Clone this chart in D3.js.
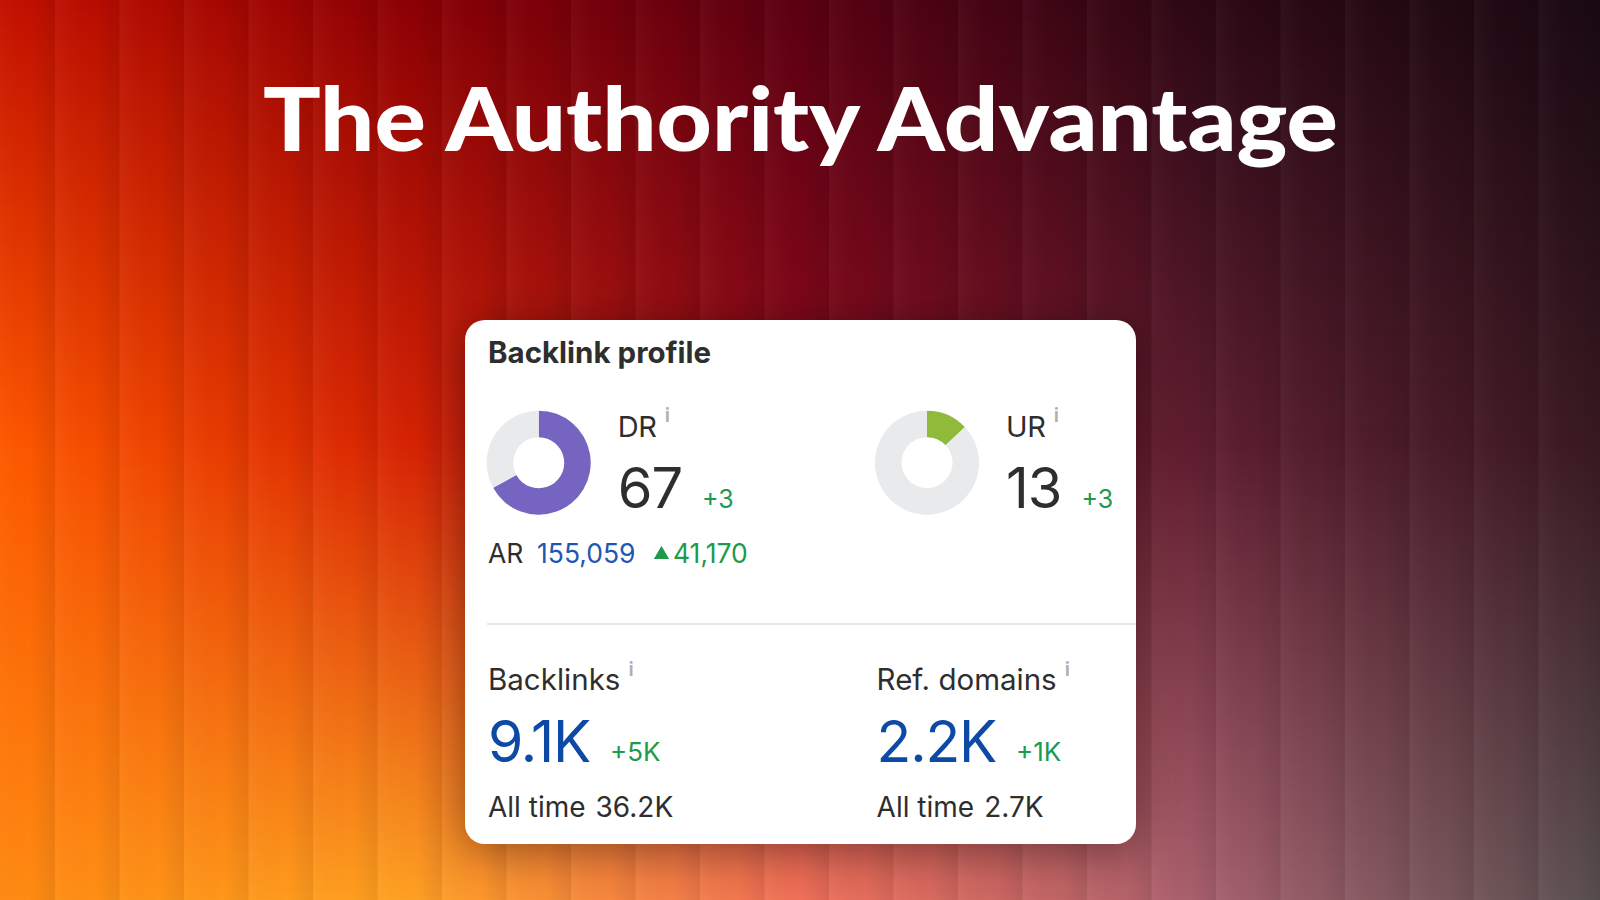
<!DOCTYPE html>
<html>
<head>
<meta charset="utf-8">
<script src="https://cdn.jsdelivr.net/npm/d3@7"></script>
<style>
  html, body { margin: 0; padding: 0; background: #1a0a12; }
  svg { display: block; }
</style>
</head>
<body>
<div id="chart"></div>
<script>
var svgWidth = 1600;
var svgHeight = 900;

// headline
var title = "The Authority Advantage";
var cardTitle = "Backlink profile";

// ratings (donuts)
var ratingLabels = ["DR", "UR"];
var ratingValues = [67, 13];
var ratingDeltas = ["+3", "+3"];
var ratingColors = ["#7664c1", "#8fba3a"];

// ahrefs rank line
var arLabel = "AR";
var arValue = "155,059";
var arDelta = "41,170";

// counts
var countLabels = ["Backlinks", "Ref. domains"];
var countValues = ["9.1K", "2.2K"];
var countDeltas = ["+5K", "+1K"];
var allTimeValues = ["36.2K", "2.7K"];

// background colour rows (left -> right), top / middle / bottom
var bgTop = ["#c41000", "#8c0004", "#5a0012", "#2c0814", "#1a0a12"];
var bgMid = ["#ff5a00", "#d82404", "#8e0a1c", "#5e1e30", "#3a1a22"];
var bgBot = ["#ff8a12", "#ffa222", "#f07058", "#a8606e", "#5a5050"];

var font = "Inter, Roboto, sans-serif";
var dark = "#2e2e2e";
var green = "#1d9a4c";
var blue = "#0d4aa6";

var svg = d3.select("#chart")
  .append("svg")
  .attr("width", svgWidth)
  .attr("height", svgHeight);

var defs = svg.append("defs");

// horizontal gradient for a background row
function rowGradient(id, colors) {
  var g = defs.append("linearGradient")
    .attr("id", id)
    .attr("x1", 0).attr("x2", 1).attr("y1", 0).attr("y2", 0);
  g.selectAll("stop")
    .data(colors)
    .enter()
    .append("stop")
    .attr("offset", (d, i) => i / (colors.length - 1))
    .attr("stop-color", d => d);
}
rowGradient("bgTop", bgTop);
rowGradient("bgMid", bgMid);
rowGradient("bgBot", bgBot);

// vertical masks to blend the rows
function vMask(id, stops) {
  var g = defs.append("linearGradient")
    .attr("id", id + "Grad")
    .attr("x1", 0).attr("x2", 0).attr("y1", 0).attr("y2", 1);
  stops.forEach(function(s) {
    g.append("stop").attr("offset", s[0]).attr("stop-color", "#fff").attr("stop-opacity", s[1]);
  });
  defs.append("mask")
    .attr("id", id)
    .append("rect")
    .attr("width", svgWidth)
    .attr("height", svgHeight)
    .attr("fill", "url(#" + id + "Grad)");
}
vMask("midMask", [[0, 1], [0.5, 1], [1, 0]]);
vMask("topMask", [[0, 1], [0.5, 0]]);

// fluted glass stripes
var stripeGrad = defs.append("linearGradient")
  .attr("id", "stripeGrad")
  .attr("x1", 0).attr("x2", 1).attr("y1", 0).attr("y2", 0);
stripeGrad.append("stop").attr("offset", 0).attr("stop-color", "#fff").attr("stop-opacity", 0.035);
stripeGrad.append("stop").attr("offset", 0.6).attr("stop-color", "#000").attr("stop-opacity", 0);
stripeGrad.append("stop").attr("offset", 1).attr("stop-color", "#000").attr("stop-opacity", 0.07);

var pattern = defs.append("pattern")
  .attr("id", "stripes")
  .attr("patternUnits", "userSpaceOnUse")
  .attr("x", 55)
  .attr("width", 64.5)
  .attr("height", svgHeight);
pattern.append("rect")
  .attr("width", 64.5)
  .attr("height", svgHeight)
  .attr("fill", "url(#stripeGrad)");

// card shadow
var shadow = defs.append("filter")
  .attr("id", "shadow")
  .attr("x", "-20%").attr("y", "-20%")
  .attr("width", "140%").attr("height", "140%");
shadow.append("feDropShadow")
  .attr("dx", 0).attr("dy", 6)
  .attr("stdDeviation", 22)
  .attr("flood-color", "#000")
  .attr("flood-opacity", 0.38);

// background layers
svg.append("rect").attr("width", svgWidth).attr("height", svgHeight).attr("fill", "url(#bgBot)");
svg.append("rect").attr("width", svgWidth).attr("height", svgHeight).attr("fill", "url(#bgMid)").attr("mask", "url(#midMask)");
svg.append("rect").attr("width", svgWidth).attr("height", svgHeight).attr("fill", "url(#bgTop)").attr("mask", "url(#topMask)");
svg.append("rect").attr("width", svgWidth).attr("height", svgHeight).attr("fill", "url(#stripes)");

// headline
svg.append("text")
  .attr("x", 263)
  .attr("y", 151)
  .attr("textLength", 1075)
  .attr("lengthAdjust", "spacingAndGlyphs")
  .attr("font-family", "Lato, 'Open Sans', sans-serif")
  .attr("font-weight", 900)
  .attr("font-size", 88)
  .attr("fill", "#fff")
  .text(title);

// card
var card = { x: 465, y: 320, w: 671, h: 524 };
svg.append("rect")
  .attr("x", card.x).attr("y", card.y)
  .attr("width", card.w).attr("height", card.h)
  .attr("rx", 20)
  .attr("fill", "#fff")
  .attr("filter", "url(#shadow)");

var cardGroup = svg.append("g")
  .attr("font-family", font);

cardGroup.append("text")
  .attr("x", 488).attr("y", 363)
  .attr("font-size", 29.5)
  .attr("font-weight", 700)
  .attr("fill", dark)
  .text(cardTitle);

// small info "i"
function infoMark(x, y) {
  cardGroup.append("text")
    .attr("x", x).attr("y", y)
    .attr("font-size", 20)
    .attr("font-weight", 600)
    .attr("fill", "#b0b0b0")
    .text("i");
}

// donuts
var pie = d3.pie().sort(null).startAngle(0).endAngle(2 * Math.PI);
var arc = d3.arc().innerRadius(25.5).outerRadius(52);
var donutX = [538.7, 927];
var textX = [617.7, 1006];

ratingValues.forEach(function(v, i) {
  var g = cardGroup.append("g")
    .attr("transform", `translate(${donutX[i]}, 462.7)`);
  g.selectAll("path")
    .data(pie([v, 100 - v]))
    .enter()
    .append("path")
    .attr("d", arc)
    .attr("fill", (d, j) => j === 0 ? ratingColors[i] : "#e9eaec");

  var lab = cardGroup.append("text")
    .attr("x", textX[i]).attr("y", 437)
    .attr("font-size", 29)
    .attr("letter-spacing", -0.3)
    .attr("fill", dark)
    .text(ratingLabels[i]);
  infoMark(textX[i] + lab.node().getComputedTextLength() + 8, 422);

  var big = cardGroup.append("text")
    .attr("x", textX[i]).attr("y", 508)
    .attr("font-size", 56)
    .attr("letter-spacing", -1)
    .attr("fill", dark)
    .text(v);
  cardGroup.append("text")
    .attr("x", textX[i] + big.node().getComputedTextLength() + 20).attr("y", 507.5)
    .attr("font-size", 25)
    .attr("fill", green)
    .text(ratingDeltas[i]);
});

// AR line
var arText = cardGroup.append("text")
  .attr("x", 488).attr("y", 563)
  .attr("font-size", 26.5);
arText.append("tspan").attr("fill", dark).text(arLabel);
arText.append("tspan").attr("x", 537).attr("fill", "#1f55b3").text(arValue);
cardGroup.append("path")
  .attr("d", d3.symbol().type(d3.symbolTriangle).size(100)())
  .attr("transform", "translate(661.5, 554.5)")
  .attr("fill", green);
cardGroup.append("text")
  .attr("x", 673).attr("y", 563)
  .attr("font-size", 26.5)
  .attr("fill", green)
  .text(arDelta);

// divider
cardGroup.append("line")
  .attr("x1", 487).attr("x2", card.x + card.w)
  .attr("y1", 624).attr("y2", 624)
  .attr("stroke", "#e6e7e9")
  .attr("stroke-width", 2);

// counts
var countX = [488, 876.6];
countLabels.forEach(function(label, i) {
  var lab = cardGroup.append("text")
    .attr("x", countX[i]).attr("y", 690)
    .attr("font-size", 29.5)
    .attr("fill", dark)
    .text(label);
  infoMark(countX[i] + lab.node().getComputedTextLength() + 8, 676);

  var big = cardGroup.append("text")
    .attr("x", countX[i]).attr("y", 762)
    .attr("font-size", 57)
    .attr("letter-spacing", -1.2)
    .attr("fill", blue)
    .text(countValues[i]);
  cardGroup.append("text")
    .attr("x", countX[i] + big.node().getComputedTextLength() + 20).attr("y", 761)
    .attr("font-size", 26)
    .attr("fill", green)
    .text(countDeltas[i]);

  var at = cardGroup.append("text")
    .attr("x", countX[i]).attr("y", 817)
    .attr("font-size", 28)
    .attr("fill", dark)
    .text("All time");
  cardGroup.append("text")
    .attr("x", countX[i] + at.node().getComputedTextLength() + 10).attr("y", 817)
    .attr("font-size", 28)
    .attr("fill", dark)
    .text(allTimeValues[i]);
});
</script>
</body>
</html>
